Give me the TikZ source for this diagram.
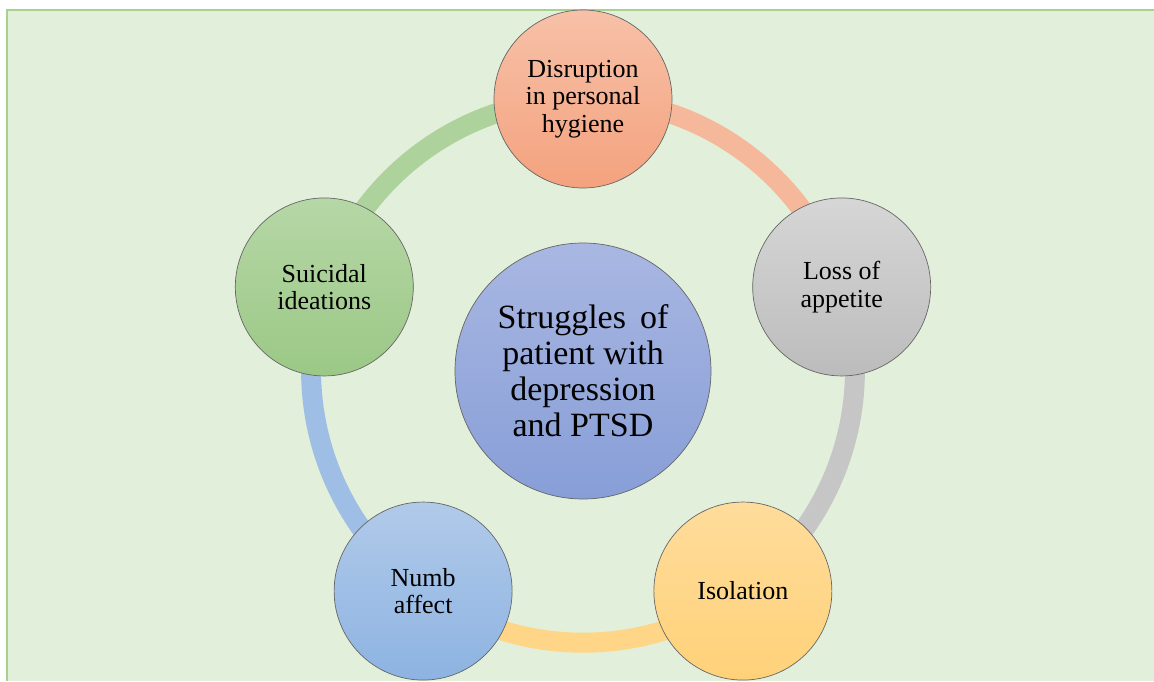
\documentclass[tikz,border=0pt]{standalone}
\usepackage{fontspec}
\setmainfont{Liberation Serif}
\usetikzlibrary{backgrounds}

\definecolor{pagebg}{HTML}{E2EFDA}
\definecolor{pageline}{HTML}{A9D18E}
\definecolor{hubtop}{HTML}{A9B7E2}
\definecolor{hubbot}{HTML}{879ED7}
\definecolor{orgtop}{HTML}{F7C1A8}
\definecolor{orgbot}{HTML}{F4A27E}
\definecolor{graytop}{HTML}{D6D6D6}
\definecolor{graybot}{HTML}{BCBCBC}
\definecolor{yeltop}{HTML}{FFDC9C}
\definecolor{yelbot}{HTML}{FFD279}
\definecolor{bluetop}{HTML}{B1CAE9}
\definecolor{bluebot}{HTML}{8DB3E2}
\definecolor{grntop}{HTML}{B6D7A6}
\definecolor{grnbot}{HTML}{9BC886}

\begin{document}
\begin{tikzpicture}[x=1pt,y=1pt,
bubble/.style={circle,draw=black!60,line width=0.7pt,minimum size=178pt,inner sep=0pt,align=center,font=\fontsize{26}{27.5}\selectfont},
hub/.style={bubble,minimum size=256pt,font=\fontsize{34}{36}\selectfont},
ring/.style={line width=20pt,bend left=36,looseness=0.94}]

\useasboundingbox (-583,-310) rectangle (571,371);

\node (p0) at (0,0) [hub,top color=hubtop,bottom color=hubbot] {Struggles\hspace{14pt}of\\patient with\\depression\\and PTSD};

\node (p1) at (90:272) [bubble,top color=orgtop,bottom color=orgbot] {Disruption\\in personal\\hygiene};
\node (p2) at (18:272) [bubble,top color=graytop,bottom color=graybot] {Loss of\\appetite};
\node (p3) at (-54:272) [bubble,top color=yeltop,bottom color=yelbot] {Isolation};
\node (p4) at (-126:272) [bubble,top color=bluetop,bottom color=bluebot] {Numb\\affect};
\node (p5) at (162:272) [bubble,top color=grntop,bottom color=grnbot] {Suicidal\\ideations};

\begin{pgfonlayer}{background}
\fill [pagebg] (-577,-310) rectangle (571,362);
\draw [pageline,line width=2pt] (-576,-310) -- (-576,361) -- (571,361);

\draw [ring,color=orgtop!70!orgbot] (p1.center) to (p2.center);
\draw [ring,color=graytop!40!graybot] (p2.center) to (p3.center);
\draw [ring,color=yeltop!40!yelbot] (p3.center) to (p4.center);
\draw [ring,color=bluetop!50!bluebot] (p4.center) to (p5.center);
\draw [ring,color=grntop!70!grnbot] (p5.center) to (p1.center);
\end{pgfonlayer}

\end{tikzpicture}
\end{document}
